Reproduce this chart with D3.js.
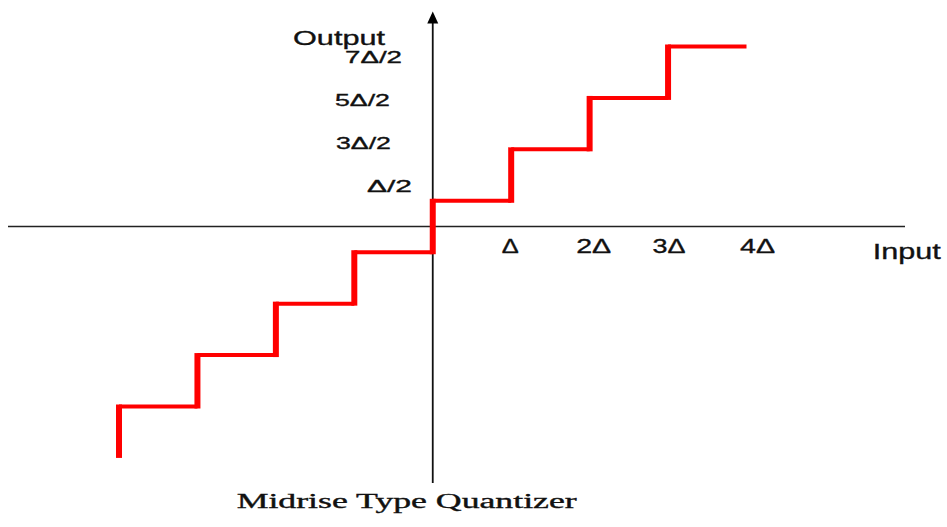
<!DOCTYPE html>
<html>
<head>
<meta charset="utf-8">
<script src="https://cdn.jsdelivr.net/npm/d3@7"></script>
<style>
  html, body { margin: 0; padding: 0; background: #fff; }
  svg { display: block; }
  text { stroke: #111; stroke-width: 0.35px; }
</style>
</head>
<body>
<svg id="chart" width="947" height="527"></svg>
<script>
// ---- data (in units of Δ) ----
const stepEdges = [-4, -3, -2, -1, 0, 1, 2, 3, 4];
const stepLevels = [-3.5, -2.5, -1.5, -0.5, 0.5, 1.5, 2.5, 3.5];
const startLevel = -4.5;
const inputTicks = [1, 2, 3, 4];
const inputTickLabels = ["Δ", "2Δ", "3Δ", "4Δ"];
const outputTicks = [0.5, 1.5, 2.5, 3.5];
const outputTickLabels = ["Δ/2", "3Δ/2", "5Δ/2", "7Δ/2"];
const titleText = "Midrise Type Quantizer";
const xAxisTitle = "Input";
const yAxisTitle = "Output";

// ---- layout ----
const svg = d3.select("#chart");
const x = d3.scaleLinear().domain([-4, 4]).range([119, 746.5]);
const y = d3.scaleLinear().domain([-3.5, 3.5]).range([406.5, 46.5]);
const labelY = d3.scaleLinear().domain([0.5, 3.5]).range([191.7, 62.7]);
const xLabelNudge = [-1, 4, 1, 11];
const xLabelWidth = [17, 35, 33, 35];
const yLabelNudge = [12, -9, -10, 2];
const yLabelWidth = [45, 55, 55, 57];
const sans = "'Liberation Sans', Arial, sans-serif";
const serif = "'Liberation Serif', 'Times New Roman', serif";

// axes
svg.append("line")
  .attr("x1", 8).attr("x2", 905)
  .attr("y1", y(0)).attr("y2", y(0))
  .attr("stroke", "#222").attr("stroke-width", 1.6);
const x0 = x(0);
svg.append("line")
  .attr("x1", x0).attr("x2", x0)
  .attr("y1", 20).attr("y2", 483)
  .attr("stroke", "#111").attr("stroke-width", 1.8);
svg.append("path")
  .attr("d", `M${x0},11.5 L${x0 - 5.5},23.5 L${x0 + 5.5},23.5 Z`)
  .attr("fill", "#000");

// staircase
const red = "#ff0000";
const horiz = stepLevels.map((lv, i) => ({ x1: stepEdges[i], x2: stepEdges[i + 1], lv }));
const risers = stepLevels.map((lv, i) => ({ xv: stepEdges[i], from: i === 0 ? startLevel : stepLevels[i - 1], to: lv }));

svg.append("g").selectAll("line").data(horiz).join("line")
  .attr("x1", d => x(d.x1)).attr("x2", d => x(d.x2))
  .attr("y1", d => y(d.lv)).attr("y2", d => y(d.lv))
  .attr("stroke", red).attr("stroke-width", 4);

svg.append("g").selectAll("line").data(risers).join("line")
  .attr("x1", d => x(d.xv)).attr("x2", d => x(d.xv))
  .attr("y1", d => y(d.from) + (d.from === startLevel ? 0 : 2))
  .attr("y2", d => y(d.to) - 2)
  .attr("stroke", red).attr("stroke-width", 6);

// x tick labels
svg.append("g").selectAll("text").data(inputTicks).join("text")
  .attr("x", (d, i) => x(d) + xLabelNudge[i])
  .attr("y", 252.7)
  .attr("text-anchor", "middle")
  .attr("font-family", sans).attr("font-size", 21)
  .attr("textLength", (d, i) => xLabelWidth[i])
  .attr("lengthAdjust", "spacingAndGlyphs")
  .attr("fill", "#111")
  .text((d, i) => inputTickLabels[i]);

// y tick labels
svg.append("g").selectAll("text").data(outputTicks).join("text")
  .attr("x", (d, i) => 400 + yLabelNudge[i])
  .attr("y", d => labelY(d))
  .attr("text-anchor", "end")
  .attr("font-family", sans).attr("font-size", 17)
  .attr("textLength", (d, i) => yLabelWidth[i])
  .attr("lengthAdjust", "spacingAndGlyphs")
  .attr("fill", "#111")
  .text((d, i) => outputTickLabels[i]);

// axis titles
svg.append("text")
  .attr("x", 293).attr("y", 45)
  .attr("font-family", sans).attr("font-size", 21)
  .attr("textLength", 92).attr("lengthAdjust", "spacingAndGlyphs")
  .attr("fill", "#111")
  .text(yAxisTitle);

svg.append("text")
  .attr("x", 872.7).attr("y", 259)
  .attr("font-family", sans).attr("font-size", 22)
  .attr("textLength", 68).attr("lengthAdjust", "spacingAndGlyphs")
  .attr("fill", "#111")
  .text(xAxisTitle);

// chart title
svg.append("text")
  .attr("x", 236.7).attr("y", 508.3)
  .attr("font-family", serif).attr("font-size", 20)
  .attr("textLength", 340).attr("lengthAdjust", "spacingAndGlyphs")
  .attr("fill", "#111")
  .text(titleText);
</script>
</body>
</html>
